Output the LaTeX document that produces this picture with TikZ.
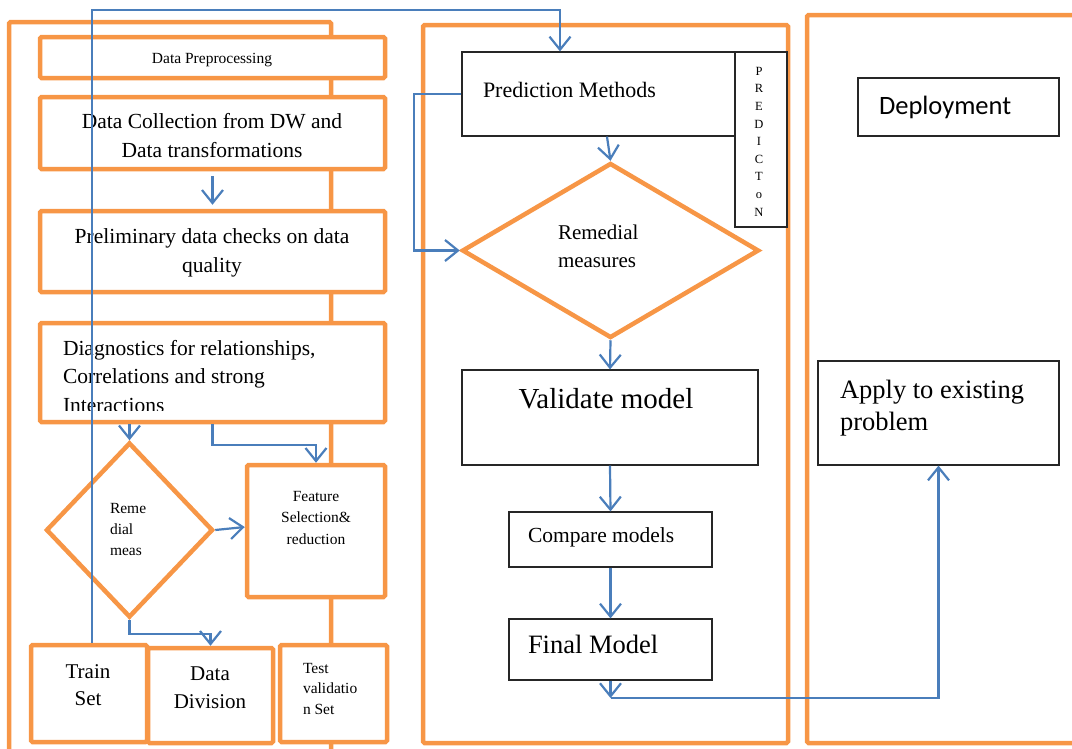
\documentclass[tikz,border=0pt]{standalone}
\usepackage{fontspec}
\setmainfont{Liberation Serif}
\newfontfamily\depfont{Carlito}
\usetikzlibrary{arrows.meta,shapes.geometric}
\definecolor{panelorange}{RGB}{247,150,70}
\definecolor{flowblue}{RGB}{74,126,187}

\begin{document}
\begin{tikzpicture}[x=1pt,y=-1pt,
  panel/.style={draw=panelorange, line width=4.5pt, rounded corners=1.5pt},
  obox/.style={draw=panelorange, line width=4.5pt, fill=white, rounded corners=1.5pt, inner sep=0pt},
  odiamond/.style={diamond, draw=panelorange, line width=4.5pt, fill=white, inner sep=0pt},
  kbox/.style={draw=black!85, line width=1.2pt, fill=white, inner sep=0pt},
  sz/.style 2 args={minimum width=#1pt, minimum height=#2pt},
  arr/.style={draw=flowblue, line width=2.2pt, -{Straight Barb[length=13pt,width=21pt]}},
  txt/.style={inner sep=0pt, outer sep=0pt},
  fs/.style 2 args={font=\fontsize{#1}{#2}\selectfont}
]
\useasboundingbox (0,0) rectangle (1072,748);
\clip (0,0) rectangle (1072,748);

% three phase panels
\draw[panel] (9,22) rectangle (331,780);
\draw[panel] (423,25) rectangle (788,743);
\draw[panel] (807,15) rectangle (1100,743);

% ---- preprocessing column ----
% (multi-line labels are placed by the baseline of their last line)
\node[obox, sz={345}{41}] (prep) at (212.5,57.5) {};
\node[txt, fs={15.5}{18}, anchor=base] (tPrep) at (212,63) {Data Preprocessing};

\node[obox, sz={345}{72}] (coll) at (212.5,133) {};
\node[txt, fs={21.5}{29}, align=center, anchor=base] (tColl) at (212,157)
  {Data Collection from DW and\\Data transformations};

\node[obox, sz={345}{81}] (prelim) at (212.5,251.5) {};
\node[txt, fs={21.5}{29}, align=center, anchor=base] (tPrelim) at (212,272)
  {Preliminary data checks on data\\quality};

\node[obox, sz={345}{99}] (diag) at (212.5,372.5) {};
\begin{scope}
  \clip (42,325) rectangle (383,410);
  \node[txt, fs={21.5}{28.5}, align=left, anchor=base west] (tDiag) at (63,412)
    {Diagnostics for relationships,\\Correlations and strong\\Interactions};
\end{scope}

\node[odiamond, sz={167}{175}] (ld) at (129.5,530) {};
\node[txt, fs={15.5}{21}, align=left, anchor=base west] (tLd) at (110,555)
  {Reme\\dial\\meas};

\node[obox, sz={138}{132}] (fsel) at (316,531) {};
\node[txt, fs={15.5}{21.5}, align=center, anchor=base] (tFsel) at (316,544)
  {Feature\\Selection\&\\reduction};

\node[obox, sz={116}{97}] (train) at (89,693.5) {};
\node[txt, fs={21}{27}, align=center, anchor=base] (tTrain) at (88,705) {Train\\Set};

\node[obox, sz={125}{95}] (dd) at (210.5,695.5) {};
\node[txt, fs={21}{28}, align=center, anchor=base] (tDd) at (210,708) {Data\\Division};

\node[obox, sz={107}{97}] (test) at (333.5,693.5) {};
\node[txt, fs={15.5}{20.5}, align=left, anchor=base west] (tTest) at (303,714)
  {Test\\validatio\\n Set};

% ---- prediction column ----
\node[kbox, sz={273}{84}] (pm) at (598.5,94) {};
\node[txt, fs={22}{26}, anchor=base west] (tPm) at (483,97) {Prediction Methods};

\node[kbox, sz={52}{175}] (pv) at (761,139.5) {};
\node[txt, fs={12.5}{17.6}, align=center, anchor=base] (tPv) at (759,216)
  {P\\R\\E\\D\\I\\C\\T\\o\\N};

\node[odiamond, sz={297}{175}] (rd) at (610.5,250.5) {};
\node[txt, fs={21}{28}, align=left, anchor=base west] (tRd) at (558,267)
  {Remedial\\measures};

\node[kbox, sz={296}{95}] (vm) at (610,417.5) {};
\node[txt, fs={29}{32}, anchor=base] (tVm) at (606,408) {Validate model};

\node[kbox, sz={203}{55}] (cm) at (610.5,539.5) {};
\node[txt, fs={21.5}{25}, anchor=base west] (tCm) at (528,542) {Compare models};

\node[kbox, sz={203}{61}] (fm) at (610.5,649.5) {};
\node[txt, fs={26.5}{30}, anchor=base west] (tFm) at (528,653) {Final Model};

% ---- deployment column ----
\node[kbox, sz={201}{58}] (dep) at (958.5,107) {};
\node[txt, font={\depfont\fontsize{26.5}{30}\selectfont}, anchor=base west] (tDep) at (879,114) {Deployment};

\node[kbox, sz={241}{104}] (app) at (938.5,413) {};
\node[txt, fs={26.5}{32}, align=left, anchor=base west] (tApp) at (840,430)
  {Apply to existing\\problem};

% ---- connectors ----
\draw[arr, shorten <=5pt, shorten >=4pt] (coll.south) -- (prelim.north);
\draw[arr] (diag.south -| ld.north) -- (ld.north);
\draw[arr] (diag.south) -- ++(0,21) -| (fsel.north);
\draw[arr] (ld.east) -- ([yshift=4pt]fsel.west);
\draw[arr] (ld.south) -- ++(0,14) -| (dd.north);

\coordinate (loopL) at (92,10);
\coordinate (loopR) at (560,10);
\draw[arr] (train.north -| loopL) -- (loopL) -- (loopR) -- (loopR |- pm.north);

\coordinate (pmL) at (414,0);
\draw[arr] (pm.west) -- (pm.west -| pmL) |- (rd.west);
\draw[arr] ([xshift=8.5pt]pm.south) -- (rd.north);
\draw[arr] (rd.south) -- (vm.north);
\draw[arr] (vm.south) -- (cm.north);
\draw[arr] (cm.south) -- (fm.north);

\coordinate (turn) at (610.5,698);
\draw[arr] (fm.south) -- (turn);
\draw[arr] (turn) -| (app.south);
\end{tikzpicture}
\end{document}
